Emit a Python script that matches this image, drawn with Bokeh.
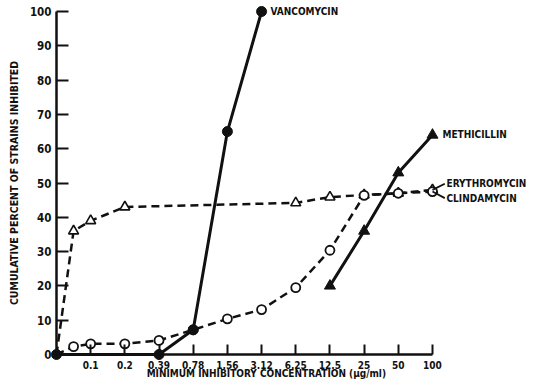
from bokeh.plotting import figure
from bokeh.models import Range1d, FixedTicker, Label
from bokeh.embed import file_html
from bokeh.resources import INLINE

# ---- data -------------------------------------------------------------
mic_labels = ["0.1", "0.2", "0.39", "0.78", "1.56", "3.12", "6.25", "12.5", "25", "50", "100"]
mic_pos = list(range(1, 12))          # category positions of the dilution steps
y_ticks = list(range(0, 101, 10))

vanco_x = [0, 3, 4, 5, 6]
vanco_y = [0, 0, 7.2, 65, 100]

meth_x = [8, 9, 10, 11]
meth_y = [20, 36, 53, 64]

ery_x = [0, 0.5, 1, 2, 7, 8, 9, 10, 11]
ery_y = [0, 36, 39, 43, 44.2, 45.9, 46.5, 47, 48]

clin_x = [0, 0.5, 1, 2, 3, 4, 5, 6, 7, 8, 9, 10, 11]
clin_y = [0, 2.3, 3.1, 3.1, 4.1, 7.2, 10.4, 13.1, 19.5, 30.4, 46.4, 47, 47.5]

# ---- styling ----------------------------------------------------------
FONT = "DejaVu Sans Condensed, Liberation Sans Narrow, sans-serif"
INK = "#111111"

p = figure(width=536, height=389, output_backend="svg", toolbar_location=None,
           title=None,
           x_range=Range1d(-1.638, 14.043), y_range=Range1d(-10.204, 103.207),
           min_border_left=0, min_border_right=0, min_border_top=0, min_border_bottom=0)
p.outline_line_color = None
p.grid.visible = False
p.background_fill_color = "white"
p.border_fill_color = "white"

# axes
for ax in (p.xaxis, p.yaxis):
    ax.fixed_location = 0
    ax.axis_line_width = 2.5
    ax.axis_line_color = INK
    ax.major_tick_line_width = 2
    ax.major_tick_line_color = INK
    ax.major_tick_out = 0
    ax.minor_tick_line_color = None
    ax.major_label_text_font = FONT
    ax.major_label_text_font_style = "bold"
    ax.major_label_text_color = INK

p.xaxis.bounds = (0, 11)
p.xaxis.ticker = FixedTicker(ticks=mic_pos)
p.xaxis.major_label_overrides = {pos: lab for pos, lab in zip(mic_pos, mic_labels)}
p.xaxis.major_tick_in = 10
p.xaxis.major_label_standoff = 6
p.xaxis.major_label_text_font_size = "10px"

p.yaxis.bounds = (0, 100)
p.yaxis.ticker = FixedTicker(ticks=y_ticks)
p.yaxis.major_tick_in = 12
p.yaxis.major_label_standoff = 5
p.yaxis.major_label_text_font_size = "11.5px"
p.yaxis.axis_label = "CUMULATIVE PERCENT OF STRAINS INHIBITED"
p.yaxis.axis_label_text_font = FONT
p.yaxis.axis_label_text_font_style = "bold"
p.yaxis.axis_label_text_font_size = "10.5px"
p.yaxis.axis_label_standoff = 7
p.yaxis.axis_label_text_color = INK

# series
DASH = "8 5"
p.line(ery_x, ery_y, line_color=INK, line_width=2.5, line_dash=DASH)
p.scatter(ery_x[1:], ery_y[1:], marker="triangle", size=10, fill_color="white",
          line_color=INK, line_width=1.6)

p.line(clin_x, clin_y, line_color=INK, line_width=2.5, line_dash=DASH)
p.scatter(clin_x[1:], clin_y[1:], marker="circle", size=9, fill_color="white",
          line_color=INK, line_width=1.8)

p.line(meth_x, meth_y, line_color=INK, line_width=3)
p.scatter(meth_x, meth_y, marker="triangle", size=11, fill_color=INK, line_color=INK)

p.line(vanco_x, vanco_y, line_color=INK, line_width=3)
p.scatter(vanco_x, vanco_y, marker="circle", size=10, fill_color=INK, line_color=INK)

# leader lines for the two overlapping end labels
p.segment(x0=[ery_x[-1]], y0=[ery_y[-1]], x1=[ery_x[-1] + 0.36], y1=[ery_y[-1] + 1.8],
          line_color=INK, line_width=1.8)
p.segment(x0=[clin_x[-1]], y0=[clin_y[-1]], x1=[clin_x[-1] + 0.36], y1=[clin_y[-1] - 1.9],
          line_color=INK, line_width=1.8)

def series_label(x, y, text, dx, dy):
    p.add_layout(Label(x=x, y=y, x_offset=dx, y_offset=dy, text=text,
                       text_font=FONT, text_font_style="bold", text_font_size="10px",
                       text_color=INK, text_align="left", text_baseline="middle"))

series_label(vanco_x[-1], vanco_y[-1], "VANCOMYCIN", 9, 0)
series_label(meth_x[-1], meth_y[-1], "METHICILLIN", 10, 0)
series_label(ery_x[-1], ery_y[-1], "ERYTHROMYCIN", 14, 6)
series_label(clin_x[-1], clin_y[-1], "CLINDAMYCIN", 14, -6.5)

# x-axis title, placed off-centre as in the original
p.add_layout(Label(x=6.14, y=-5.4, text="MINIMUM INHIBITORY CONCENTRATION (µg/ml)",
                   text_font=FONT, text_font_style="bold", text_font_size="10px",
                   text_color=INK, text_align="center", text_baseline="middle"))

open("out.html", "w").write(file_html(p, INLINE))
